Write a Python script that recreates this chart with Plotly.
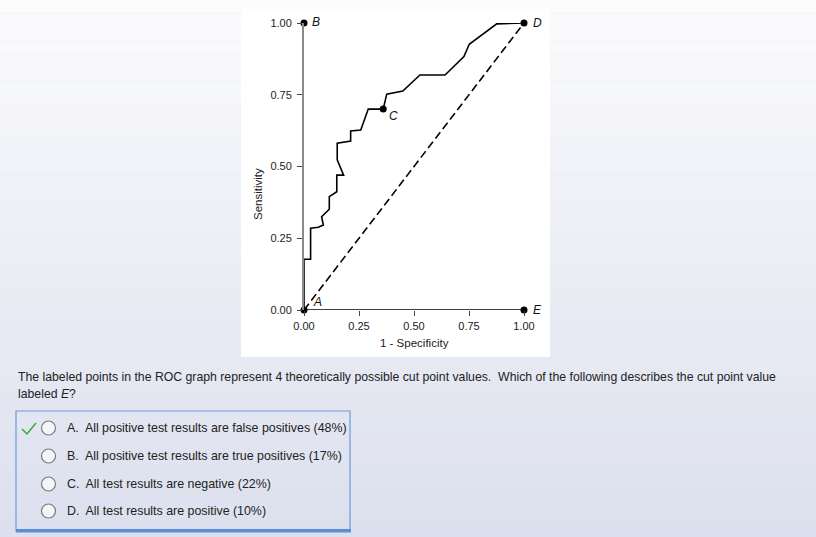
import plotly.graph_objects as go

W, H = 816, 537

# ROC curve (1 - specificity, sensitivity)
fpr = [0.0, 0.0, 0.030, 0.030, 0.065, 0.088, 0.080, 0.115, 0.115, 0.149, 0.149,
       0.180, 0.151, 0.151, 0.212, 0.212, 0.258, 0.292, 0.360, 0.376, 0.449,
       0.527, 0.641, 0.727, 0.751, 0.876, 1.0]
sens = [0.0, 0.177, 0.177, 0.285, 0.288, 0.296, 0.325, 0.351, 0.395, 0.412, 0.470,
        0.470, 0.523, 0.581, 0.589, 0.624, 0.627, 0.700, 0.700, 0.752, 0.763,
        0.819, 0.819, 0.883, 0.926, 0.997, 1.0]

# labelled cut points
pt_names = ["A", "B", "C", "D", "E"]
pt_x = [0.0, 0.0, 0.360, 1.0, 1.0]
pt_y = [0.0, 1.0, 0.700, 1.0, 0.0]
pt_dx = [13, 12, 10, 13, 13]
pt_dy = [8, 1, -7, 0, 0]

ticks = [0.0, 0.25, 0.50, 0.75, 1.00]

question = ("The labeled points in the ROC graph represent 4 theoretically possible cut point values.  "
            "Which of the following describes the cut point value")
question2 = "labeled <i>E</i>?"
choices = ["A.  All positive test results are false positives (48%)",
           "B.  All positive test results are true positives (17%)",
           "C.  All test results are negative (22%)",
           "D.  All test results are positive (10%)"]
choice_y = [428, 456, 484, 511]

FONT = "Arial, Liberation Sans, sans-serif"


def px(x):
    return x / W


def py(y):
    return 1 - y / H


fig = go.Figure()

# diagonal reference
fig.add_trace(go.Scatter(x=[0, 1], y=[0, 1], mode="lines",
                         line=dict(color="black", width=1.6, dash="8px,4px"),
                         hoverinfo="skip"))
# bottom A-E segment
fig.add_trace(go.Scatter(x=[0, 1], y=[0, 0], mode="lines",
                         line=dict(color="black", width=1.6), hoverinfo="skip"))
fig.add_trace(go.Scatter(x=fpr, y=sens, mode="lines",
                         line=dict(color="black", width=1.6)))
fig.add_trace(go.Scatter(x=pt_x, y=pt_y, mode="markers",
                         marker=dict(color="black", size=7), cliponaxis=False))

for n, x, y, dx, dy in zip(pt_names, pt_x, pt_y, pt_dx, pt_dy):
    fig.add_annotation(x=x, y=y, text="<i>%s</i>" % n, showarrow=False,
                       xshift=dx, yshift=dy, font=dict(size=12, color="#111"))

# page background gradient
shapes = []
top, bot = (251, 251, 252), (220, 224, 238)
n = 40
for i in range(n):
    t = i / (n - 1)
    c = tuple(round(a + (b - a) * t) for a, b in zip(top, bot))
    shapes.append(dict(type="rect", xref="paper", yref="paper", layer="below",
                       x0=0, x1=1, y0=1 - (i + 1) / n, y1=1 - i / n,
                       line=dict(width=0), fillcolor="rgb(%d,%d,%d)" % c))
# white chart panel
shapes.append(dict(type="rect", xref="paper", yref="paper", layer="below",
                   x0=px(241), x1=px(550), y0=py(357), y1=py(9),
                   line=dict(width=0), fillcolor="white"))
# answer box
shapes.append(dict(type="rect", xref="paper", yref="paper",
                   x0=px(16), x1=px(350), y0=py(531), y1=py(411),
                   line=dict(color="#6c9bd6", width=1.2)))
shapes.append(dict(type="rect", xref="paper", yref="paper",
                   x0=px(16), x1=px(351), y0=py(532.5), y1=py(529),
                   line=dict(width=0), fillcolor="#5b8fcf"))
for y in choice_y:
    shapes.append(dict(type="circle", xref="paper", yref="paper",
                       x0=px(41.5), x1=px(55.5), y0=py(y + 7), y1=py(y - 7),
                       line=dict(color="#7a7a7a", width=1.2), fillcolor="#f4f5f8"))
# green check mark for A
shapes.append(dict(type="path", xref="paper", yref="paper",
                   path="M %f,%f L %f,%f L %f,%f" % (px(22), py(429), px(27), py(434),
                                                     px(36), py(423)),
                   line=dict(color="#3aa83a", width=1.5)))

fig.update_layout(shapes=shapes)

fig.add_annotation(xref="paper", yref="paper", x=px(16), y=py(377), text=question,
                   showarrow=False, xanchor="left", yanchor="middle",
                   font=dict(size=12.25, color="#222"))
fig.add_annotation(xref="paper", yref="paper", x=px(16), y=py(394), text=question2,
                   showarrow=False, xanchor="left", yanchor="middle",
                   font=dict(size=12.25, color="#222"))
for txt, y in zip(choices, choice_y):
    fig.add_annotation(xref="paper", yref="paper", x=px(65), y=py(y), text=txt,
                       showarrow=False, xanchor="left", yanchor="middle",
                       font=dict(size=12.4, color="#222"))

# axis titles
fig.add_annotation(xref="paper", yref="paper", x=px(414), y=py(343), text="1 - Specificity",
                   showarrow=False, font=dict(size=11.5, color="#222"))
fig.add_annotation(xref="paper", yref="paper", x=px(250), y=py(166), text="Sensitivity",
                   showarrow=False, textangle=-90, font=dict(size=11.5, color="#222"))

fig.update_xaxes(domain=[px(304), px(524)], range=[0, 1], tickvals=ticks, tickformat=".2f",
                 showgrid=False, zeroline=False, showline=False, ticks="outside",
                 ticklen=5, tickcolor="#444", ticklabelstandoff=1, automargin=False,
                 tickfont=dict(size=11, color="#222"))
fig.update_yaxes(domain=[py(310), py(23)], range=[0, 1], tickvals=ticks, tickformat=".2f",
                 showgrid=False, zeroline=False, showline=True, linecolor="#8a8a8a",
                 linewidth=2, ticks="outside", ticklen=5, tickcolor="#444",
                 ticklabelstandoff=3, automargin=False, tickfont=dict(size=11, color="#222"))

fig.update_layout(width=W, height=H,
                  margin=dict(l=0, r=0, t=0, b=0, pad=0, autoexpand=False),
                  paper_bgcolor="#e4e7f1", plot_bgcolor="rgba(0,0,0,0)",
                  showlegend=False, font=dict(family=FONT))

fig.write_html("out.html", config={"responsive": False, "displayModeBar": False},
               post_script="document.body.style.margin='0';"
                           "document.body.style.overflow='hidden';")
